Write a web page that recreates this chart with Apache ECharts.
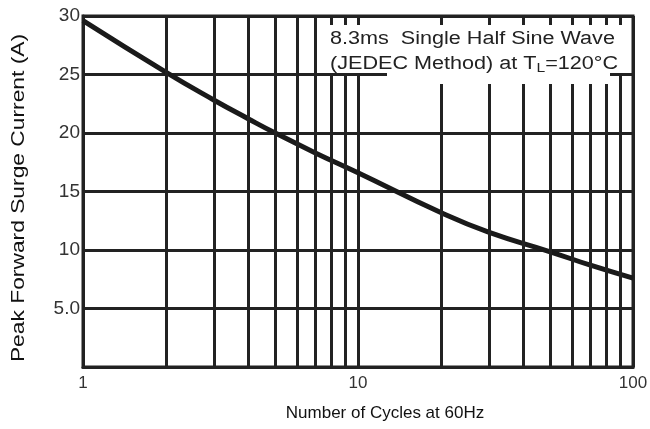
<!DOCTYPE html>
<html>
<head>
<meta charset="utf-8">
<script src="https://cdn.jsdelivr.net/npm/echarts@6/dist/echarts.min.js"></script>
<style>
  html, body { margin: 0; padding: 0; background: #fff; }
  #chart { width: 650px; height: 429px; }
</style>
</head>
<body>
<div id="chart"></div>
<script>
	// surge current vs number of cycles
	var cycles = [1, 2, 3, 4, 5, 7, 10, 20, 30, 50, 70, 100];
	var current = [29.6, 25.2, 22.8, 21.2, 20.0, 18.3, 16.6, 13.2, 11.5, 9.85, 8.7, 7.6];
	var minorGridX = [2, 3, 4, 5, 6, 7, 8, 9, 20, 30, 40, 50, 60, 70, 80, 90];

	var lineColor = '#222';
	var font = '"Liberation Sans", Arial, sans-serif';

	var curveData = [];
	for (var i = 0; i < cycles.length; i++) {
	    curveData.push([cycles[i], current[i]]);
	}
	var gridLines = minorGridX.map(function (v) { return { xAxis: v }; });

	var chart = echarts.init(document.getElementById('chart'));
	chart.setOption({
	    animation: false,
	    grid: {
	        left: 83, right: 17, top: 16, bottom: 62,
	        outerBoundsMode: 'none',
	        containLabel: false,
	        show: true,
	        borderColor: lineColor,
	        borderWidth: 3
	    },
	    xAxis: {
	        type: 'log',
	        logBase: 10,
	        min: 1,
	        max: 100,
	        name: 'Number of Cycles at 60Hz',
	        nameLocation: 'middle',
	        nameGap: 38,
	        nameTextStyle: { fontFamily: font, fontSize: 17, color: '#111', padding: [0, 0, 0, 54] },
	        axisLine: { lineStyle: { color: lineColor, width: 3 } },
	        axisTick: { show: false },
	        axisLabel: { fontFamily: font, fontSize: 17, color: '#333', margin: 8 },
	        splitLine: { show: true, lineStyle: { color: lineColor, width: 3 } }
	    },
	    yAxis: {
	        type: 'value',
	        min: 0,
	        max: 30,
	        interval: 5,
	        axisLine: { lineStyle: { color: lineColor, width: 3 } },
	        axisTick: { show: false },
	        axisLabel: {
	            fontFamily: font, fontSize: 19, color: '#333', margin: 3,
	            formatter: function (v) {
	                if (v === 0) return '';
	                return v === 5 ? '5.0' : String(v);
	            }
	        },
	        splitLine: { show: true, lineStyle: { color: lineColor, width: 3 } }
	    },
	    series: [{
	        type: 'line',
	        data: curveData,
	        smooth: 0.5,
	        showSymbol: false,
	        lineStyle: { color: '#1a1a1a', width: 5 },
	        markLine: {
	            silent: true,
	            symbol: 'none',
	            label: { show: false },
	            lineStyle: { type: 'solid', color: lineColor, width: 3 },
	            data: gridLines
	        }
	    }],
	    graphic: [{
	        // y axis title
	        type: 'text',
	        x: 19, y: 198,
	        rotation: Math.PI / 2,
	        scaleX: 1.2,
	        style: {
	            text: 'Peak Forward Surge Current (A)',
	            font: '19px ' + font,
	            fill: '#111',
	            align: 'center',
	            verticalAlign: 'middle'
	        }
	    }, {
	        type: 'rect',
	        z: 100,
	        shape: { x: 317, y: 25, width: 309, height: 48 },
	        style: { fill: '#fff' }
	    }, {
	        type: 'rect',
	        z: 100,
	        shape: { x: 387, y: 25, width: 223, height: 59 },
	        style: { fill: '#fff' }
	    }, {
	        type: 'text',
	        z: 101,
	        x: 330, y: 30,
	        scaleX: 1.2,
	        style: { text: '8.3ms  Single Half Sine Wave', font: '18px ' + font, fill: '#222', verticalAlign: 'top' }
	    }, {
	        type: 'text',
	        z: 101,
	        x: 330, y: 53,
	        scaleX: 1.2,
	        style: {
	            text: '(JEDEC Method) at T{s|L}=120°C',
	            font: '18px ' + font,
	            fill: '#222',
	            verticalAlign: 'top',
	            rich: { s: { fontSize: 13, fontFamily: font, fill: '#222', padding: [9, 0, 0, 0] } }
	        }
	    }]
	});
</script>
</body>
</html>
